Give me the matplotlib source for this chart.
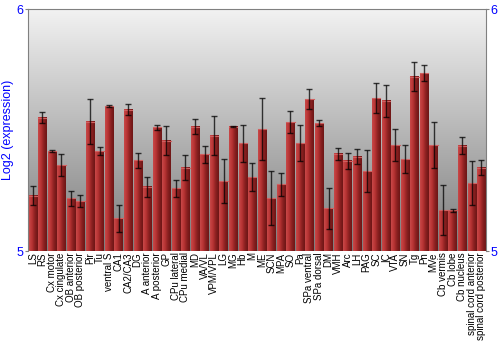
import numpy as np
import matplotlib
matplotlib.use("Agg")
import matplotlib.pyplot as plt
from matplotlib.colors import LinearSegmentedColormap

plt.rcParams['font.family'] = ['Liberation Sans', 'DejaVu Sans']

regions = ['LS', 'RS', 'Cx motor', 'Cx cingulate', 'OB anterior', 'OB posterior',
           'Pir', 'Tu', 'ventral S', 'CA1', 'CA2/CA3', 'DG', 'A anterior',
           'A posterior', 'GP', 'CPu lateral', 'CPu medial', 'MD', 'VA/VL',
           'VPM/VPL', 'LG', 'MG', 'Hb', 'M', 'ME', 'SCN', 'MPA', 'SO', 'Pa',
           'SPa ventral', 'SPa dorsal', 'DM', 'VMH', 'Arc', 'LH', 'PAG', 'SC',
           'IC', 'VTA', 'SN', 'Tg', 'Pn', 'MVe', 'Cb vermis', 'Cb lobe',
           'Cb nucleus', 'spinal cord anterior', 'spinal cord posterior']
expr = [5.229, 5.551, 5.413, 5.355, 5.218, 5.206, 5.535, 5.413, 5.599, 5.135,
        5.583, 5.376, 5.265, 5.511, 5.456, 5.260, 5.345, 5.514, 5.399, 5.477,
        5.289, 5.514, 5.445, 5.305, 5.503, 5.218, 5.276, 5.533, 5.446, 5.628,
        5.528, 5.177, 5.401, 5.372, 5.390, 5.330, 5.631, 5.620, 5.438, 5.380,
        5.720, 5.735, 5.438, 5.169, 5.169, 5.435, 5.280, 5.345]
err = [0.040, 0.024, 0.003, 0.046, 0.032, 0.026, 0.092, 0.015, 0.003, 0.055,
       0.023, 0.031, 0.041, 0.011, 0.061, 0.035, 0.050, 0.030, 0.034, 0.079,
       0.090, 0.003, 0.077, 0.058, 0.128, 0.112, 0.047, 0.047, 0.074, 0.040,
       0.013, 0.085, 0.023, 0.035, 0.030, 0.087, 0.062, 0.068, 0.065, 0.056,
       0.059, 0.033, 0.095, 0.103, 0.006, 0.035, 0.090, 0.032]

fig = plt.figure(figsize=(5, 3.5), dpi=100)
ax = fig.add_axes([28/500, 99/350, 458/500, 242/350])

x = np.arange(len(regions))
w = 0.87

# grey background gradient
bg = LinearSegmentedColormap.from_list('bg', ['#7c7c7c', '#f2f2f2'])
ax.imshow(np.linspace(0, 1, 256).reshape(-1, 1), cmap=bg, origin='lower',
          extent=[-0.5, len(x) - 0.5, 5, 6], aspect='auto', zorder=0)

# red bars with horizontal shading
barcm = LinearSegmentedColormap.from_list('bar', ['#c84848', '#b83434', '#8a2020', '#6e1616'])
grad = np.linspace(0, 1, 32).reshape(1, -1)
for xi, v in zip(x, expr):
    ax.imshow(grad, cmap=barcm, extent=[xi - w/2, xi + w/2, 5, v],
              aspect='auto', zorder=2)
    ax.plot([xi - w/2, xi + w/2], [v, v], color='#d06060', lw=0.8, zorder=3)

ax.errorbar(x, expr, yerr=err, fmt='none', ecolor='black', elinewidth=1,
            capsize=2, capthick=1, alpha=0.75, zorder=4)

ax.set_xlim(-0.5, len(x) - 0.5)
ax.set_ylim(5, 6)
ax.set_xticks(x)
ax.set_xticklabels(regions, rotation=90, fontsize=7)
ax.tick_params(axis='x', length=0, pad=1)
ax.set_yticks([5, 6])
ax.tick_params(axis='y', colors='#808080', labelcolor='blue', labelsize=9,
               length=2, pad=1, left=True, right=True, labelright=True)
ax.set_ylabel('Log2 (expression)', color='blue', fontsize=9, labelpad=2)
for s in ax.spines.values():
    s.set_color('#808080')
ax.spines['bottom'].set_visible(False)

fig.savefig('out.png', dpi=100)
